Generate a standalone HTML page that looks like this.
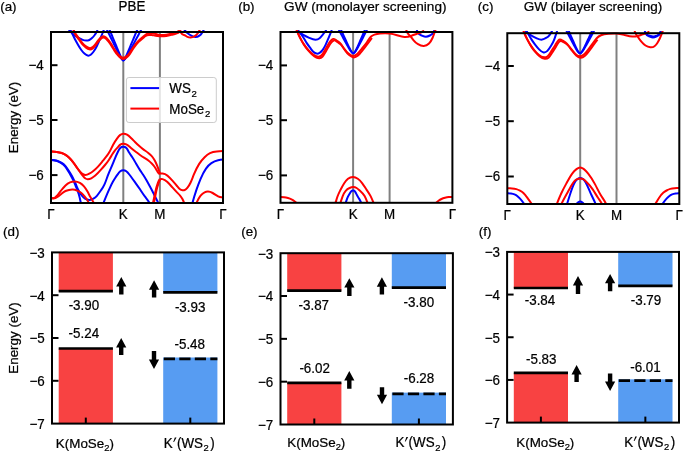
<!DOCTYPE html>
<html><head><meta charset="utf-8"><style>
html,body{margin:0;padding:0;background:#fff;width:685px;height:451px;overflow:hidden}
svg{display:block;will-change:transform}
text{stroke:#000;stroke-width:0.22px}
</style></head><body>
<svg width="685" height="451" viewBox="0 0 685 451" font-family='"Liberation Sans", sans-serif' fill="#000">
<rect width="685" height="451" fill="#fff"/>
<text transform="translate(0.2,10.7) scale(1,1)" text-anchor="start" font-size="13.4">(a)</text>
<text transform="translate(132,10.9) scale(1,1.04)" text-anchor="middle" font-size="13.4">PBE</text>
<text transform="translate(238.2,10.7) scale(1,1)" text-anchor="start" font-size="13.4">(b)</text>
<text transform="translate(365.3,10.9) scale(1,1)" text-anchor="middle" font-size="13.6">GW (monolayer screening)</text>
<text transform="translate(477.8,10.7) scale(1,1)" text-anchor="start" font-size="13.4">(c)</text>
<text transform="translate(593,10.9) scale(1,1)" text-anchor="middle" font-size="13.55">GW (bilayer screening)</text>
<text transform="translate(3,235.8) scale(1,1)" text-anchor="start" font-size="13.4">(d)</text>
<text transform="translate(241.2,235.8) scale(1,1)" text-anchor="start" font-size="13.4">(e)</text>
<text transform="translate(478.7,235.6) scale(1,1)" text-anchor="start" font-size="13.4">(f)</text>
<text transform="translate(18.3,117.5) rotate(-90)" text-anchor="middle" font-size="13.4">Energy (eV)</text>
<text transform="translate(18.3,338) rotate(-90)" text-anchor="middle" font-size="13.4">Energy (eV)</text>
<clipPath id="ca"><rect x="49.4" y="29.9" width="175.2" height="173.1"/></clipPath>
<g stroke="#808080" stroke-width="2">
<line x1="123.3" y1="32" x2="123.3" y2="203"/>
<line x1="159.9" y1="32" x2="159.9" y2="203"/>
</g>
<g clip-path="url(#ca)" stroke-linejoin="round" stroke-linecap="butt">
<path d="M68.7,30C69.4,30.6 70.1,31.3 70.8,32C71.7,32.91 72.6,33.83 73.5,34.6C74.5,35.46 75.5,36.12 76.5,36.7C77.57,37.32 78.63,37.83 79.7,38.4C80.7,38.93 81.7,39.5 82.7,39.9C83.9,40.38 85.1,40.6 86.3,40.6C87.3,40.6 88.3,40.45 89.3,40C90.2,39.59 91.1,38.95 92,38.1C92.9,37.25 93.8,36.21 94.7,35C95.37,34.1 96.03,33.12 96.7,31.7C97,31.06 97.3,30.34 97.6,29.5" stroke="#0000ff" stroke-width="2" fill="none"/>
<path d="M70.2,29.5C70.7,30.59 71.2,31.65 71.7,32.7C72.7,34.79 73.7,36.79 74.7,38.7C75.8,40.8 76.9,42.78 78,44.7C79.1,46.62 80.2,48.47 81.3,50C82.43,51.57 83.57,52.8 84.7,53.8C85.7,54.68 86.7,55.38 87.7,55.6C88.7,55.82 89.7,55.55 90.7,54.8C91.57,54.15 92.43,53.14 93.3,52C94.2,50.82 95.1,49.5 96,47.8C96.9,46.1 97.8,44.01 98.7,42C99.57,40.07 100.43,38.21 101.3,36.2C101.87,34.89 102.43,33.5 103,32C103.3,31.2 103.6,30.37 103.9,29.5" stroke="#0000ff" stroke-width="2" fill="none"/>
<path d="M106.78,29.51C107.2,30.37 107.62,31.23 108.05,32.1C108.47,32.96 108.89,33.82 109.32,34.68C109.74,35.54 110.17,36.4 110.59,37.26C111.01,38.12 111.44,38.98 111.86,39.84C112.28,40.7 112.71,41.55 113.13,42.41C113.56,43.27 113.98,44.12 114.4,44.98C114.83,45.83 115.25,46.68 115.67,47.53C116.1,48.38 116.52,49.23 116.94,50.07C117.37,50.92 117.79,51.76 118.22,52.59C118.64,53.42 119.06,54.25 119.49,55.05C119.91,55.86 120.33,56.65 120.76,57.4C121.18,58.16 121.61,58.88 122.03,59.43C122.45,59.99 122.88,60.38 123.3,60.4C123.76,60.42 124.22,60 124.69,59.43C125.15,58.87 125.61,58.15 126.07,57.4C126.54,56.65 127,55.86 127.46,55.05C127.92,54.24 128.39,53.42 128.85,52.59C129.31,51.76 129.77,50.92 130.24,50.07C130.7,49.23 131.16,48.38 131.62,47.53C132.09,46.68 132.55,45.83 133.01,44.98C133.47,44.12 133.94,43.27 134.4,42.41C134.86,41.55 135.32,40.7 135.79,39.84C136.25,38.98 136.71,38.12 137.17,37.26C137.64,36.4 138.1,35.54 138.56,34.68C139.02,33.82 139.49,32.96 139.95,32.1C140.41,31.23 140.87,30.37 141.34,29.51" stroke="#0000ff" stroke-width="2" fill="none"/>
<path d="M109.48,29.51C109.83,30.37 110.19,31.23 110.54,32.1C110.89,32.96 111.25,33.82 111.6,34.68C111.96,35.54 112.31,36.4 112.67,37.26C113.02,38.12 113.38,38.98 113.73,39.84C114.08,40.7 114.44,41.55 114.79,42.41C115.15,43.27 115.5,44.12 115.86,44.98C116.21,45.83 116.57,46.68 116.92,47.53C117.27,48.38 117.63,49.23 117.98,50.07C118.34,50.92 118.69,51.76 119.05,52.59C119.4,53.42 119.76,54.25 120.11,55.05C120.46,55.86 120.82,56.65 121.17,57.4C121.53,58.16 121.88,58.87 122.24,59.43C122.59,59.99 122.95,60.4 123.3,60.4C123.66,60.4 124.02,59.99 124.38,59.43C124.74,58.87 125.1,58.16 125.46,57.4C125.82,56.65 126.18,55.86 126.54,55.05C126.9,54.25 127.26,53.42 127.62,52.59C127.98,51.76 128.34,50.92 128.7,50.07C129.06,49.23 129.42,48.38 129.78,47.53C130.14,46.68 130.5,45.83 130.86,44.98C131.22,44.12 131.58,43.27 131.94,42.41C132.3,41.55 132.66,40.7 133.02,39.84C133.38,38.98 133.74,38.12 134.1,37.26C134.46,36.4 134.82,35.54 135.18,34.68C135.54,33.82 135.9,32.96 136.26,32.1C136.62,31.23 136.98,30.37 137.34,29.51" stroke="#0000ff" stroke-width="2" fill="none"/>
<path d="M184.3,29.6C184.47,29.84 184.63,30.08 184.8,30.3C185.77,31.59 186.73,32.52 187.7,33.3C188.87,34.24 190.03,34.97 191.2,35.6C192.57,36.34 193.93,36.94 195.3,37C196.67,37.06 198.03,36.58 199.4,35.6C200.17,35.05 200.93,34.35 201.7,33.3C202.27,32.52 202.83,31.56 203.4,30.6C203.6,30.26 203.8,29.93 204,29.6" stroke="#0000ff" stroke-width="2" fill="none"/>
<path d="M73.2,28.95C73.57,29.83 73.93,30.62 74.3,31.35C75.1,32.94 75.9,34.21 76.7,35.35C77.7,36.78 78.7,38 79.7,39.35C80.7,40.7 81.7,42.18 82.7,43.35C83.8,44.64 84.9,45.55 86,46.35C87.1,47.15 88.2,47.83 89.3,48.05C90.43,48.28 91.57,48.01 92.7,47.15C93.57,46.49 94.43,45.49 95.3,44.35C96.2,43.16 97.1,41.83 98,40.65C98.9,39.47 99.8,38.44 100.7,37.65C101.67,36.8 102.63,36.21 103.6,36.25C104.4,36.28 105.2,36.75 106,37.45C106.87,38.21 107.73,39.23 108.6,40.35C109.53,41.55 110.47,42.85 111.4,44.35C112.4,45.95 113.4,47.78 114.4,49.35C115.67,51.34 116.93,52.94 118.2,54.35C119.13,55.39 120.07,56.33 121,56.95C121.77,57.46 122.53,57.77 123.3,57.75C124.07,57.73 124.83,57.4 125.6,56.95C126.6,56.36 127.6,55.58 128.6,54.35C129.7,52.99 130.8,51.09 131.9,49.35C133.07,47.51 134.23,45.86 135.4,44.35C136.57,42.84 137.73,41.49 138.9,40.35C140.23,39.05 141.57,38.05 142.9,36.95C143.87,36.16 144.83,35.31 145.8,34.65C146.8,33.96 147.8,33.47 148.8,33.2C149.77,32.94 150.73,32.9 151.7,33C152.67,33.1 153.63,33.33 154.6,33.6C156.4,34.1 158.2,34.71 160,34.95C162.1,35.23 164.2,35 166.3,34.65C168.23,34.33 170.17,33.89 172.1,33.45C173.67,33.09 175.23,32.72 176.8,32.05C177.7,31.67 178.6,31.18 179.5,30.55C180,30.2 180.5,29.8 181,29.35" stroke="#ff0000" stroke-width="2" fill="none"/>
<path d="M73.2,30.25C73.57,31.13 73.93,31.92 74.3,32.65C75.1,34.24 75.9,35.51 76.7,36.65C77.7,38.08 78.7,39.3 79.7,40.65C80.7,42 81.7,43.48 82.7,44.65C83.8,45.94 84.9,46.85 86,47.65C87.1,48.45 88.2,49.13 89.3,49.35C90.43,49.58 91.57,49.31 92.7,48.45C93.57,47.79 94.43,46.79 95.3,45.65C96.2,44.46 97.1,43.13 98,41.95C98.9,40.77 99.8,39.74 100.7,38.95C101.67,38.1 102.63,37.51 103.6,37.55C104.4,37.58 105.2,38.05 106,38.75C106.87,39.51 107.73,40.53 108.6,41.65C109.53,42.85 110.47,44.15 111.4,45.65C112.4,47.25 113.4,49.08 114.4,50.65C115.67,52.64 116.93,54.24 118.2,55.65C119.13,56.69 120.07,57.63 121,58.25C121.77,58.76 122.53,59.07 123.3,59.05C124.07,59.03 124.83,58.7 125.6,58.25C126.6,57.66 127.6,56.88 128.6,55.65C129.7,54.29 130.8,52.39 131.9,50.65C133.07,48.81 134.23,47.16 135.4,45.65C136.57,44.14 137.73,42.77 138.9,41.65C140.23,40.37 141.57,39.4 142.9,38.25C143.87,37.42 144.83,36.49 145.8,35.95C146.8,35.39 147.8,35.24 148.8,35.1C149.77,34.96 150.73,34.82 151.7,34.9C152.67,34.98 153.63,35.27 154.6,35.5C156.4,35.93 158.2,36.16 160,36.25C162.1,36.35 164.2,36.26 166.3,35.95C168.23,35.67 170.17,35.2 172.1,34.75C173.67,34.38 175.23,34.02 176.8,33.35C177.7,32.97 178.6,32.48 179.5,31.85C180,31.5 180.5,31.1 181,30.65" stroke="#ff0000" stroke-width="2" fill="none"/>
<path d="M179.8,29.6C180.2,30.96 180.6,31.96 181,32.7C182.27,35.04 183.53,34.79 184.8,35.3C185.7,35.66 186.6,36.42 187.5,36.9C188.53,37.45 189.57,37.65 190.6,37.6C191.97,37.53 193.33,37.03 194.7,36.2C195.67,35.61 196.63,34.85 197.6,33.5C198.2,32.66 198.8,31.59 199.4,30.6C199.63,30.22 199.87,29.84 200.1,29.5" stroke="#ff0000" stroke-width="2" fill="none"/>
<path d="M51,159.9C52.9,159.88 54.8,160.14 56.7,160.7C58.23,161.16 59.77,161.81 61.3,162.7C62.63,163.47 63.97,164.41 65.3,166C66.1,166.95 66.9,168.14 67.7,169.3C68.63,170.66 69.57,171.99 70.5,173.5C71.43,175.01 72.37,176.7 73.3,178.6C74.13,180.3 74.97,182.17 75.8,184.2C76.47,185.83 77.13,187.56 77.8,189C78.5,190.51 79.2,191.69 79.9,192.8C81.07,194.65 82.23,196.28 83.4,197.4C84.57,198.52 85.73,199.12 86.9,199.5C87.9,199.82 88.9,199.98 89.9,199.9C91.07,199.8 92.23,199.38 93.4,198.7C94.57,198.02 95.73,197.1 96.9,195.8C98.27,194.28 99.63,192.26 101,190.3C102.17,188.63 103.33,187 104.5,184.4C105.77,181.57 107.03,177.59 108.3,174.3C109.43,171.35 110.57,168.95 111.7,166.3C112.8,163.72 113.9,160.91 115,158.3C115.9,156.16 116.8,154.17 117.7,152.3C118.37,150.92 119.03,149.61 119.7,148.7C120.37,147.79 121.03,147.28 121.7,147C122.23,146.78 122.77,146.7 123.3,146.7C123.83,146.7 124.37,146.78 124.9,147C125.57,147.28 126.23,147.78 126.9,148.7C127.6,149.66 128.3,151.08 129,152.3C130.1,154.21 131.2,155.63 132.3,157.3C133.53,159.17 134.77,161.36 136,163.5C137.33,165.81 138.67,168.06 140,170.1C141.1,171.78 142.2,173.31 143.3,175C144.37,176.64 145.43,178.42 146.5,180.3C147.6,182.24 148.7,184.27 149.8,186.3C150.6,187.77 151.4,189.24 152.2,190.8C153,192.36 153.8,194.01 154.6,195.6C155.8,197.98 157,200.22 158.2,202.7C158.63,203.6 159.07,204.52 159.5,205.5" stroke="#0000ff" stroke-width="2" fill="none"/>
<path d="M51,159.9C52.9,159.82 54.8,160.13 56.7,160.8C58.23,161.34 59.77,162.11 61.3,163.1C62.63,163.96 63.97,164.98 65.3,166.7C66.1,167.73 66.9,169.02 67.7,170.3C68.63,171.8 69.57,173.29 70.5,174.9C71.43,176.51 72.37,178.22 73.3,180.3C74.13,182.16 74.97,184.31 75.8,186.3C76.8,188.69 77.8,190.86 78.8,194.2C79.47,196.43 80.13,199.17 80.8,202.7C80.97,203.58 81.13,204.51 81.3,205.5" stroke="#0000ff" stroke-width="2" fill="none"/>
<path d="M102.3,206C102.73,204.9 103.17,203.8 103.6,202.7C104.87,199.5 106.13,196.35 107.4,193.4C108.27,191.38 109.13,189.46 110,187.6C111,185.46 112,183.4 113,181.6C113.83,180.1 114.67,178.77 115.5,177.5C116.23,176.38 116.97,175.31 117.7,174.3C118.57,173.11 119.43,172.01 120.3,171.3C121.3,170.48 122.3,170.18 123.3,170.2C124.3,170.22 125.3,170.55 126.3,171.3C127.3,172.05 128.3,173.22 129.3,174.5C130.53,176.07 131.77,177.8 133,179.5C134.17,181.11 135.33,182.68 136.5,184.3C137.67,185.92 138.83,187.57 140,189.3C141.67,191.77 143.33,194.41 145,196.6C146.47,198.53 147.93,200.12 149.4,202.7C149.87,203.52 150.33,204.44 150.8,205.5" stroke="#0000ff" stroke-width="2" fill="none"/>
<path d="M191.8,205.5C192.03,204.58 192.27,203.68 192.5,202.8C193.83,197.79 195.17,193.51 196.5,189.6C197.87,185.6 199.23,181.99 200.6,178.8C202.4,174.6 204.2,171.15 206,168.6C207.8,166.05 209.6,164.42 211.4,163.2C213.63,161.69 215.87,160.82 218.1,160.3C219.73,159.92 221.37,159.72 223,159.6" stroke="#0000ff" stroke-width="2" fill="none"/>
<path d="M51,151.5C52.9,151.59 54.8,151.66 56.7,151.9C58.37,152.11 60.03,152.44 61.7,153C63.37,153.56 65.03,154.37 66.7,155.6C68.03,156.59 69.37,157.85 70.7,159.3C71.8,160.49 72.9,161.81 74,163.3C75.33,165.1 76.67,167.14 78,169C79.33,170.86 80.67,172.53 82,173.6C83.1,174.48 84.2,174.96 85.3,175C86.63,175.05 87.97,174.45 89.3,173.7C90.63,172.95 91.97,172.06 93.3,171C94.87,169.76 96.43,168.3 98,166.6C99.67,164.79 101.33,162.71 103,160.7C104.33,159.09 105.67,157.52 107,155.7C107.9,154.47 108.8,153.13 109.7,151.5C110.8,149.51 111.9,147.09 113,145C114.33,142.47 115.67,140.42 117,138.6C118.1,137.1 119.2,135.75 120.3,134.9C121.3,134.13 122.3,133.77 123.3,133.7C124.53,133.62 125.77,133.97 127,134.7C128.33,135.49 129.67,136.7 131,138C132.33,139.3 133.67,140.67 135,142C136.33,143.33 137.67,144.61 139,145.8C140.33,146.99 141.67,148.1 143,149.1C144.67,150.35 146.33,151.42 148,152.7C149.1,153.55 150.2,154.49 151.3,155.7C152.2,156.69 153.1,157.87 154,159.3C154.67,160.36 155.33,161.56 156,163C156.67,164.44 157.33,166.13 158,167.9C158.43,169.05 158.87,170.24 159.3,171.5C159.53,172.18 159.77,172.88 160,173.6" stroke="#ff0000" stroke-width="2" fill="none"/>
<path d="M51,151.5C52.9,151.6 54.8,151.67 56.7,151.9C58.37,152.1 60.03,152.43 61.7,153C63.37,153.57 65.03,154.39 66.7,155.6C68.03,156.57 69.37,157.8 70.7,159.3C71.8,160.54 72.9,161.97 74,163.5C75,164.89 76,166.37 77,167.8C78,169.23 79,170.6 80,172C81.1,173.54 82.2,175.1 83.3,176.4C84.03,177.27 84.77,178.03 85.5,178.5C86.23,178.97 86.97,179.17 87.7,179.2C88.9,179.25 90.1,178.88 91.3,178.3C92.63,177.65 93.97,176.74 95.3,175.6C97.2,173.97 99.1,171.87 101,169.7C102.33,168.17 103.67,166.61 105,165C106.33,163.39 107.67,161.73 109,159.7C110.1,158.03 111.2,156.1 112.3,154.3C113.2,152.82 114.1,151.43 115,150.3C115.9,149.17 116.8,148.31 117.7,147.3C118.57,146.33 119.43,145.23 120.3,144.6C121.3,143.88 122.3,143.78 123.3,143.8C124.3,143.82 125.3,143.95 126.3,144.4C127.87,145.11 129.43,146.63 131,148C132.57,149.37 134.13,150.6 135.7,151.8C137.13,152.9 138.57,153.97 140,155C141.33,155.96 142.67,156.88 144,157.7C145.57,158.67 147.13,159.51 148.7,160.7C149.8,161.54 150.9,162.55 152,163.7C152.9,164.64 153.8,165.67 154.7,167C155.37,167.99 156.03,169.14 156.7,170.3C157.37,171.46 158.03,172.64 158.7,173.3C159.13,173.73 159.57,173.95 160,173.8" stroke="#ff0000" stroke-width="2" fill="none"/>
<path d="M160,173.6C160.87,173.5 161.73,173.49 162.6,173.6C164.2,173.8 165.8,174.4 167.4,175.6C169,176.8 170.6,178.59 172.2,180.4C173.8,182.21 175.4,184.03 177,186C178,187.23 179,188.53 180,189.3C180.83,189.94 181.67,190.22 182.5,190.3C183.33,190.38 184.17,190.25 185,189.8C185.83,189.35 186.67,188.59 187.5,187.6C188.5,186.42 189.5,184.91 190.5,182.8C191.6,180.48 192.7,177.42 193.8,174.7C195.6,170.25 197.4,166.72 199.2,163.9C201,161.08 202.8,158.96 204.6,157.2C206.4,155.44 208.2,154.02 210,153.1C212.27,151.94 214.53,151.56 216.8,151.4C218.87,151.26 220.93,151.3 223,151.1" stroke="#ff0000" stroke-width="2" fill="none"/>
<path d="M152.1,206C152.4,205.08 152.7,203.96 153,202.7C153.8,199.35 154.6,195.1 155.4,191.6C156.2,188.1 157,185.35 157.8,183.2C158.4,181.59 159,180.31 159.6,179.3" stroke="#ff0000" stroke-width="2" fill="none"/>
<path d="M152.9,206C153.23,205.24 153.57,204.08 153.9,202.7C154.67,199.52 155.43,195.14 156.2,191.6C156.93,188.22 157.67,185.61 158.4,183.6C159,181.96 159.6,180.72 160.2,179.8" stroke="#ff0000" stroke-width="2" fill="none"/>
<path d="M159.6,179.3C160.6,178.92 161.6,178.87 162.6,179.1C164.2,179.46 165.8,180.52 167.4,182C169,183.48 170.6,185.37 172.2,187.2C173.8,189.03 175.4,190.81 177,192.4C178.03,193.43 179.07,194.39 180.1,195.6C180.83,196.46 181.57,197.45 182.3,198.8C182.9,199.9 183.5,201.24 184.1,202.7C184.47,203.59 184.83,204.54 185.2,205.5" stroke="#ff0000" stroke-width="2" fill="none"/>
<path d="M51,197.6C53.27,199.23 55.53,197.48 57.8,194.8C59.03,193.34 60.27,191.61 61.5,190C62.83,188.26 64.17,186.65 65.5,185.4C67,183.99 68.5,183.02 70,182.4C71.5,181.78 73,181.5 74.5,181.5C76.3,181.5 78.1,181.89 79.9,182.9C81.27,183.67 82.63,184.79 84,186.4C85.17,187.78 86.33,189.52 87.5,191.6C88.47,193.33 89.43,195.29 90.4,197C91.5,198.95 92.6,200.57 93.7,202.7C94.13,203.54 94.57,204.45 95,205.5" stroke="#ff0000" stroke-width="2" fill="none"/>
<path d="M51,197.6C53.27,199.28 55.53,198.34 57.8,196.7C59.03,195.81 60.27,194.7 61.5,193.7C62.83,192.61 64.17,191.64 65.5,191C66.67,190.44 67.83,190.13 69,189.9C70.3,189.65 71.6,189.5 72.9,189.6C74.27,189.71 75.63,190.1 77,190.6C78.37,191.1 79.73,191.7 81.1,192.8C82.27,193.74 83.43,195.05 84.6,196.4C85.97,197.98 87.33,199.63 88.7,202.7C89.07,203.52 89.43,204.45 89.8,205.5" stroke="#ff0000" stroke-width="2" fill="none"/>
<path d="M195.3,205.5C195.7,204.56 196.1,203.66 196.5,202.8C197.87,199.87 199.23,197.45 200.6,195.7C201.93,193.99 203.27,192.92 204.6,192.3C205.73,191.77 206.87,191.57 208,191.6C209.57,191.64 211.13,192.14 212.7,193C214.5,193.99 216.3,195.45 218.1,196.4C219.73,197.26 221.37,197.71 223,197" stroke="#ff0000" stroke-width="2" fill="none"/>
</g>
<rect x="51" y="32" width="172" height="171" fill="none" stroke="#000" stroke-width="2"/>
<line x1="51" y1="65.2" x2="57.5" y2="65.2" stroke="#000" stroke-width="2"/>
<line x1="51" y1="120" x2="57.5" y2="120" stroke="#000" stroke-width="2"/>
<line x1="51" y1="175.1" x2="57.5" y2="175.1" stroke="#000" stroke-width="2"/>
<text transform="translate(43.8,70) scale(1,1.04)" text-anchor="end" font-size="13.4">−4</text>
<text transform="translate(43.8,124.8) scale(1,1.04)" text-anchor="end" font-size="13.4">−5</text>
<text transform="translate(43.8,179.9) scale(1,1.04)" text-anchor="end" font-size="13.4">−6</text>
<text transform="translate(51,219.4) scale(1,1.04)" text-anchor="middle" font-size="13.4">Γ</text>
<text transform="translate(123.3,219.4) scale(1,1.04)" text-anchor="middle" font-size="13.4">K</text>
<text transform="translate(159.9,219.4) scale(1,1.04)" text-anchor="middle" font-size="13.4">M</text>
<text transform="translate(223,219.4) scale(1,1.04)" text-anchor="middle" font-size="13.4">Γ</text>
<clipPath id="cb"><rect x="278.9" y="29.9" width="175.1" height="172.9"/></clipPath>
<g stroke="#808080" stroke-width="2">
<line x1="353.1" y1="32" x2="353.1" y2="202.8"/>
<line x1="389.6" y1="32" x2="389.6" y2="202.8"/>
</g>
<g clip-path="url(#cb)" stroke-linejoin="round" stroke-linecap="butt">
<path d="M296.6,30.2C297.5,30.72 298.4,31.34 299.3,32C300.8,33.09 302.3,34.27 303.8,35.2C305.57,36.29 307.33,37.03 309.1,37.8C311.23,38.72 313.37,39.68 315.5,39.7C316.87,39.71 318.23,39.33 319.6,38.2C320.63,37.34 321.67,36.06 322.7,34.8C323.43,33.91 324.17,33.03 324.9,32C325.37,31.34 325.83,30.63 326.3,29.8" stroke="#0000ff" stroke-width="2" fill="none"/>
<path d="M297.9,30C298.37,30.71 298.83,31.37 299.3,32C300.53,33.67 301.77,35.16 303,37C304.27,38.89 305.53,41.15 306.8,43.1C308.07,45.05 309.33,46.68 310.6,48.4C311.6,49.76 312.6,51.17 313.6,52.1C314.6,53.03 315.6,53.49 316.6,53.6C317.6,53.71 318.6,53.48 319.6,52.9C320.63,52.3 321.67,51.33 322.7,49.9C323.7,48.52 324.7,46.72 325.7,44.6C326.57,42.76 327.43,40.69 328.3,38.6C329.2,36.43 330.1,34.24 331,32C331.27,31.34 331.53,30.67 331.8,30" stroke="#0000ff" stroke-width="2" fill="none"/>
<path d="M338.69,29.54C339.06,30.24 339.44,30.94 339.81,31.64C340.18,32.35 340.56,33.05 340.93,33.75C341.31,34.45 341.68,35.15 342.06,35.84C342.43,36.54 342.81,37.24 343.18,37.93C343.56,38.63 343.93,39.32 344.31,40.01C344.68,40.7 345.06,41.38 345.43,42.07C345.81,42.75 346.18,43.43 346.56,44.1C346.93,44.77 347.3,45.44 347.68,46.1C348.05,46.76 348.43,47.4 348.8,48.03C349.18,48.66 349.55,49.28 349.93,49.86C350.3,50.45 350.68,51 351.05,51.49C351.43,51.98 351.8,52.41 352.18,52.72C352.55,53.03 352.93,53.22 353.3,53.2C353.6,53.18 353.9,53.02 354.2,52.72C354.51,52.42 354.81,51.98 355.11,51.49C355.41,51 355.71,50.45 356.01,49.86C356.31,49.28 356.62,48.66 356.92,48.03C357.22,47.4 357.52,46.76 357.82,46.1C358.12,45.44 358.42,44.77 358.73,44.1C359.03,43.43 359.33,42.75 359.63,42.07C359.93,41.38 360.23,40.7 360.54,40.01C360.84,39.32 361.14,38.63 361.44,37.93C361.74,37.24 362.04,36.54 362.34,35.84C362.65,35.15 362.95,34.45 363.25,33.75C363.55,33.05 363.85,32.35 364.15,31.64C364.45,30.94 364.76,30.24 365.06,29.54" stroke="#0000ff" stroke-width="2" fill="none"/>
<path d="M340.88,29.54C341.2,30.24 341.52,30.94 341.84,31.64C342.16,32.35 342.48,33.05 342.79,33.75C343.11,34.45 343.43,35.15 343.75,35.84C344.07,36.54 344.39,37.24 344.7,37.93C345.02,38.63 345.34,39.32 345.66,40.01C345.98,40.7 346.3,41.38 346.61,42.07C346.93,42.75 347.25,43.43 347.57,44.1C347.89,44.77 348.21,45.44 348.52,46.1C348.84,46.76 349.16,47.4 349.48,48.03C349.8,48.66 350.12,49.28 350.43,49.86C350.75,50.45 351.07,51 351.39,51.49C351.71,51.98 352.03,52.42 352.34,52.72C352.66,53.02 352.98,53.19 353.3,53.2C353.65,53.21 354,53.02 354.36,52.72C354.71,52.41 355.06,51.98 355.41,51.49C355.77,51 356.12,50.45 356.47,49.86C356.82,49.28 357.17,48.66 357.53,48.03C357.88,47.4 358.23,46.76 358.58,46.1C358.93,45.44 359.29,44.77 359.64,44.1C359.99,43.43 360.34,42.75 360.7,42.07C361.05,41.38 361.4,40.7 361.75,40.01C362.1,39.32 362.46,38.63 362.81,37.93C363.16,37.24 363.51,36.54 363.87,35.84C364.22,35.15 364.57,34.45 364.92,33.75C365.27,33.05 365.63,32.35 365.98,31.64C366.33,30.94 366.68,30.24 367.04,29.54" stroke="#0000ff" stroke-width="2" fill="none"/>
<path d="M416.7,29.8C417.03,30.84 417.37,31.65 417.7,32.3C418.8,34.44 419.9,34.77 421,35.2C422.63,35.84 424.27,36.7 425.9,36.7C427.43,36.7 428.97,35.94 430.5,35.2C431.5,34.72 432.5,34.25 433.5,32.3C433.83,31.65 434.17,30.83 434.5,29.8" stroke="#0000ff" stroke-width="2" fill="none"/>
<path d="M296.2,29.1C296.5,29.85 296.8,30.58 297.1,31.3C298.1,33.7 299.1,35.93 300.1,37.9C301.27,40.2 302.43,42.15 303.6,43.9C304.93,45.9 306.27,47.64 307.6,49.2C308.93,50.76 310.27,52.14 311.6,53.3C312.93,54.46 314.27,55.38 315.6,56C316.6,56.46 317.6,56.75 318.6,56.7C319.6,56.65 320.6,56.25 321.6,55.2C322.6,54.15 323.6,52.46 324.6,50.7C325.6,48.94 326.6,47.1 327.6,45.4C328.6,43.7 329.6,42.14 330.6,40.9C331.43,39.87 332.27,39.06 333.1,38.9C334.27,38.67 335.43,39.7 336.6,40.5C337.7,41.25 338.8,41.8 339.9,42.9C341.3,44.3 342.7,46.62 344.1,48.6C345.53,50.63 346.97,52.32 348.4,53.6C349.9,54.94 351.4,55.82 352.9,55.9C354.23,55.97 355.57,55.41 356.9,54.3C358.57,52.92 360.23,50.68 361.9,48.6C363.57,46.52 365.23,44.59 366.9,42.2C368.3,40.19 369.7,37.85 371.1,36.5C372.23,35.4 373.37,34.95 374.5,34.6C376.33,34.03 378.17,33.71 380,33.5C383.2,33.13 386.4,33.06 389.6,33.5C392.07,33.84 394.53,34.47 397,35.2C399.47,35.93 401.93,36.76 404.4,36.9C406.8,37.04 409.2,36.53 411.6,35.7C413.4,35.08 415.2,34.28 417,33.7C418.6,33.18 420.2,32.83 421.8,32C422.53,31.62 423.27,31.14 424,30.5" stroke="#ff0000" stroke-width="2" fill="none"/>
<path d="M297,30.6C297.3,31.35 297.6,32.08 297.9,32.8C298.9,35.2 299.9,37.43 300.9,39.4C302.07,41.7 303.23,43.65 304.4,45.4C305.73,47.4 307.07,49.14 308.4,50.7C309.73,52.26 311.07,53.64 312.4,54.8C313.73,55.96 315.07,56.88 316.4,57.5C317.4,57.96 318.4,58.25 319.4,58.2C320.4,58.15 321.4,57.75 322.4,56.7C323.4,55.65 324.4,53.96 325.4,52.2C326.4,50.44 327.4,48.6 328.4,46.9C329.4,45.2 330.4,43.64 331.4,42.4C332.23,41.37 333.07,40.56 333.9,40.4C335.07,40.17 336.23,41.2 337.4,42C338.5,42.75 339.6,43.3 340.7,44.4C342.1,45.8 343.5,48.12 344.9,50.1C346.33,52.13 347.77,53.82 349.2,55.1C350.7,56.44 352.2,57.32 353.7,57.4C355.03,57.47 356.37,56.9 357.7,55.8C359.37,54.43 361.03,52.24 362.7,50.1C364.37,47.96 366.03,45.87 367.7,43.7C369.1,41.88 370.5,40 371.9,38" stroke="#ff0000" stroke-width="2" fill="none"/>
<path d="M406.2,29.8C406.47,30.68 406.73,31.4 407,32C408,34.25 409,34.8 410,35.8C411.2,37 412.4,38.84 413.6,40.3C415.07,42.09 416.53,43.31 418,44.2C419.93,45.37 421.87,45.97 423.8,45.9C425.53,45.84 427.27,45.24 429,43.5C430.17,42.33 431.33,40.64 432.5,38C433.27,36.27 434.03,34.13 434.8,32C435.07,31.26 435.33,30.52 435.6,29.8" stroke="#ff0000" stroke-width="2" fill="none"/>
<path d="M334.4,206C334.77,205.14 335.13,204.06 335.5,202.9C336.13,200.9 336.77,198.64 337.4,196.8C338.4,193.89 339.4,192 340.4,190.1C341.67,187.69 342.93,185.26 344.2,183.3C345.47,181.34 346.73,179.85 348,178.8C349.7,177.4 351.4,176.8 353.1,176.9C354.67,177 356.23,177.69 357.8,178.8C359.3,179.86 360.8,181.3 362.3,183.3C363.8,185.3 365.3,187.86 366.8,190.1C368.07,191.99 369.33,193.64 370.6,196.1C371.6,198.04 372.6,200.48 373.6,202.9C374.03,203.95 374.47,205 374.9,206" stroke="#ff0000" stroke-width="2" fill="none"/>
<path d="M339.3,206C339.67,205.07 340.03,204.01 340.4,202.9C341.17,200.58 341.93,198.06 342.7,196.1C343.7,193.55 344.7,191.95 345.7,190.8C347,189.3 348.3,188.56 349.6,188C350.77,187.5 351.93,187.15 353.1,187.1C354.27,187.05 355.43,187.3 356.6,188C357.73,188.68 358.87,189.79 360,190.8C361.53,192.17 363.07,193.36 364.6,196.1C365.6,197.89 366.6,200.33 367.6,202.9C368,203.93 368.4,204.97 368.8,206" stroke="#ff0000" stroke-width="2" fill="none"/>
<path d="M344.7,206C345.03,205.03 345.37,203.97 345.7,202.9C346.2,201.3 346.7,199.69 347.2,198.4C347.97,196.42 348.73,195.18 349.5,193.9C350.1,192.9 350.7,191.86 351.3,191.3C351.9,190.74 352.5,190.65 353.1,190.6C353.7,190.55 354.3,190.54 354.9,191.3C355.37,191.89 355.83,192.95 356.3,193.9C357.17,195.66 358.03,197.01 358.9,198.4C359.67,199.63 360.43,200.89 361.2,202.9C361.53,203.77 361.87,204.79 362.2,206" stroke="#0000ff" stroke-width="2" fill="none"/>
<path d="M280.5,197C281.67,196.99 282.83,197.05 284,197.2C285.33,197.37 286.67,197.64 288,198C289.17,198.32 290.33,198.71 291.5,199.3C292.5,199.81 293.5,200.46 294.5,201.2C295.23,201.74 295.97,202.33 296.7,203C297.2,203.46 297.7,203.95 298.2,204.5" stroke="#ff0000" stroke-width="2" fill="none"/>
<path d="M434.7,204.5C435.1,203.93 435.5,203.43 435.9,203C436.77,202.06 437.63,201.4 438.5,200.8C439.5,200.1 440.5,199.48 441.5,199C442.67,198.44 443.83,198.09 445,197.8C446.27,197.49 447.53,197.25 448.8,197.1C450,196.96 451.2,196.89 452.4,196.9" stroke="#ff0000" stroke-width="2" fill="none"/>
</g>
<rect x="280.5" y="32" width="171.9" height="170.8" fill="none" stroke="#000" stroke-width="2"/>
<line x1="280.5" y1="65.4" x2="287" y2="65.4" stroke="#000" stroke-width="2"/>
<line x1="280.5" y1="120.2" x2="287" y2="120.2" stroke="#000" stroke-width="2"/>
<line x1="280.5" y1="175.4" x2="287" y2="175.4" stroke="#000" stroke-width="2"/>
<text transform="translate(273.3,70.2) scale(1,1.04)" text-anchor="end" font-size="13.4">−4</text>
<text transform="translate(273.3,125) scale(1,1.04)" text-anchor="end" font-size="13.4">−5</text>
<text transform="translate(273.3,180.2) scale(1,1.04)" text-anchor="end" font-size="13.4">−6</text>
<text transform="translate(280.5,219.2) scale(1,1.04)" text-anchor="middle" font-size="13.4">Γ</text>
<text transform="translate(353.1,219.2) scale(1,1.04)" text-anchor="middle" font-size="13.4">K</text>
<text transform="translate(389.6,219.2) scale(1,1.04)" text-anchor="middle" font-size="13.4">M</text>
<text transform="translate(452.4,219.2) scale(1,1.04)" text-anchor="middle" font-size="13.4">Γ</text>
<clipPath id="cc"><rect x="505.7" y="31.1" width="175.2" height="172.9"/></clipPath>
<g stroke="#808080" stroke-width="2">
<line x1="580.2" y1="33.2" x2="580.2" y2="204"/>
<line x1="616.5" y1="33.2" x2="616.5" y2="204"/>
</g>
<g clip-path="url(#cc)" stroke-linejoin="round" stroke-linecap="butt">
<path d="M524.9,31.3C525.87,31.79 526.83,32.43 527.8,33.1C529.3,34.15 530.8,35.3 532.3,36.2C533.8,37.1 535.3,37.76 536.8,38.4C538.57,39.15 540.33,39.88 542.1,39.6C543.37,39.4 544.63,38.68 545.9,38C546.9,37.46 547.9,36.94 548.9,35.8C549.53,35.08 550.17,34.1 550.8,33.1C551.3,32.31 551.8,31.51 552.3,30.8" stroke="#0000ff" stroke-width="2" fill="none"/>
<path d="M526.4,30.9C526.87,31.58 527.33,32.32 527.8,33.1C529.07,35.21 530.33,37.58 531.6,39.6C532.83,41.56 534.07,43.2 535.3,44.8C536.57,46.45 537.83,48.07 539.1,49.4C540.6,50.98 542.1,52.16 543.6,52.4C544.87,52.6 546.13,52.13 547.4,50.9C548.67,49.67 549.93,47.7 551.2,45.6C552.2,43.94 553.2,42.21 554.2,39.6C554.93,37.69 555.67,35.3 556.4,33.1C556.67,32.3 556.93,31.52 557.2,30.8" stroke="#0000ff" stroke-width="2" fill="none"/>
<path d="M566.43,30.74C566.78,31.41 567.12,32.09 567.47,32.76C567.82,33.43 568.17,34.11 568.52,34.78C568.86,35.45 569.21,36.12 569.56,36.79C569.91,37.45 570.26,38.12 570.6,38.79C570.95,39.45 571.3,40.11 571.65,40.77C572,41.43 572.34,42.09 572.69,42.74C573.04,43.4 573.39,44.04 573.74,44.69C574.08,45.33 574.43,45.97 574.78,46.59C575.13,47.22 575.48,47.84 575.82,48.44C576.17,49.04 576.52,49.62 576.87,50.17C577.22,50.73 577.56,51.25 577.91,51.71C578.26,52.17 578.61,52.57 578.96,52.85C579.3,53.14 579.65,53.31 580,53.3C580.31,53.29 580.62,53.13 580.93,52.85C581.24,52.57 581.56,52.17 581.87,51.71C582.18,51.25 582.49,50.73 582.8,50.17C583.11,49.62 583.42,49.04 583.73,48.44C584.05,47.84 584.36,47.22 584.67,46.59C584.98,45.97 585.29,45.33 585.6,44.69C585.91,44.04 586.22,43.4 586.54,42.74C586.85,42.09 587.16,41.43 587.47,40.77C587.78,40.11 588.09,39.45 588.4,38.79C588.71,38.12 589.03,37.45 589.34,36.79C589.65,36.12 589.96,35.45 590.27,34.78C590.58,34.11 590.89,33.43 591.2,32.76C591.51,32.09 591.83,31.41 592.14,30.74" stroke="#0000ff" stroke-width="2" fill="none"/>
<path d="M568.64,30.74C568.93,31.41 569.22,32.09 569.51,32.76C569.8,33.43 570.09,34.11 570.38,34.78C570.68,35.45 570.97,36.12 571.26,36.79C571.55,37.45 571.84,38.12 572.13,38.79C572.42,39.45 572.71,40.11 573.01,40.77C573.3,41.43 573.59,42.09 573.88,42.74C574.17,43.4 574.46,44.04 574.75,44.69C575.05,45.33 575.34,45.97 575.63,46.59C575.92,47.22 576.21,47.84 576.5,48.44C576.79,49.04 577.09,49.62 577.38,50.17C577.67,50.73 577.96,51.25 578.25,51.71C578.54,52.17 578.83,52.58 579.13,52.85C579.42,53.13 579.71,53.28 580,53.3C580.36,53.32 580.72,53.14 581.09,52.85C581.45,52.57 581.81,52.17 582.17,51.71C582.53,51.25 582.9,50.73 583.26,50.17C583.62,49.62 583.98,49.04 584.35,48.44C584.71,47.84 585.07,47.22 585.43,46.59C585.79,45.97 586.16,45.33 586.52,44.69C586.88,44.04 587.24,43.4 587.6,42.74C587.97,42.09 588.33,41.43 588.69,40.77C589.05,40.11 589.42,39.45 589.78,38.79C590.14,38.12 590.5,37.45 590.86,36.79C591.23,36.12 591.59,35.45 591.95,34.78C592.31,34.11 592.67,33.43 593.04,32.76C593.4,32.09 593.76,31.41 594.12,30.74" stroke="#0000ff" stroke-width="2" fill="none"/>
<path d="M644.8,30.8C645.1,31.81 645.4,32.59 645.7,33.2C646.8,35.44 647.9,35.37 649,35.6C650.3,35.87 651.6,36.56 652.9,36.6C654.27,36.64 655.63,35.97 657,35.6C658,35.33 659,35.23 660,33.2C660.3,32.59 660.6,31.81 660.9,30.8" stroke="#0000ff" stroke-width="2" fill="none"/>
<path d="M644.8,30.8C645.1,31.78 645.4,32.57 645.7,33.2C646.8,35.52 647.9,35.8 649,36.23C650.3,36.74 651.6,37.45 652.9,37.5C654.27,37.55 655.63,36.87 657,36.23C658,35.76 659,35.32 660,33.2C660.3,32.57 660.6,31.78 660.9,30.8" stroke="#0000ff" stroke-width="2" fill="none"/>
<path d="M523.2,30.1C523.47,30.93 523.73,31.69 524,32.4C524.87,34.7 525.73,36.43 526.6,38.1C527.87,40.54 529.13,42.87 530.4,44.9C531.67,46.93 532.93,48.67 534.2,50.2C535.7,52.01 537.2,53.51 538.7,54.7C540.47,56.1 542.23,57.05 544,57.3C545.23,57.48 546.47,57.31 547.7,56.2C548.97,55.05 550.23,52.91 551.5,50.9C552.77,48.89 554.03,47.03 555.3,44.9C556.3,43.22 557.3,41.36 558.3,40.4C558.8,39.92 559.3,39.66 559.8,39.6C560.8,39.47 561.8,40.11 562.8,40.7C564.17,41.51 565.53,42.25 566.9,43.6C568.3,44.99 569.7,47.02 571.1,48.9C572.53,50.82 573.97,52.59 575.4,53.9C576.8,55.18 578.2,56.03 579.6,56.2C581.03,56.37 582.47,55.82 583.9,54.6C585.33,53.38 586.77,51.5 588.2,49.6C589.6,47.75 591,45.89 592.4,43.9C593.83,41.86 595.27,39.7 596.7,38.2C598.13,36.7 599.57,35.88 601,35.3C603.5,34.29 606,34.01 608.5,33.8C611.17,33.57 613.83,33.41 616.5,33.6C619,33.78 621.5,34.27 624,34.9C626.8,35.61 629.6,36.5 632.4,36.6C634.47,36.67 636.53,36.31 638.6,35.7C640.4,35.17 642.2,34.46 644,34C645,33.75 646,33.57 647,33C647.67,32.62 648.33,32.07 649,31.2" stroke="#ff0000" stroke-width="2" fill="none"/>
<path d="M524,31.6C524.27,32.43 524.53,33.19 524.8,33.9C525.67,36.2 526.53,37.93 527.4,39.6C528.67,42.04 529.93,44.37 531.2,46.4C532.47,48.43 533.73,50.17 535,51.7C536.5,53.51 538,55.01 539.5,56.2C541.27,57.6 543.03,58.55 544.8,58.8C546.03,58.98 547.27,58.81 548.5,57.7C549.77,56.55 551.03,54.41 552.3,52.4C553.57,50.39 554.83,48.53 556.1,46.4C557.1,44.72 558.1,42.86 559.1,41.9C559.6,41.42 560.1,41.16 560.6,41.1C561.6,40.97 562.6,41.61 563.6,42.2C564.97,43.01 566.33,43.75 567.7,45.1C569.1,46.49 570.5,48.52 571.9,50.4C573.33,52.32 574.77,54.09 576.2,55.4C577.6,56.68 579,57.54 580.4,57.7C581.83,57.87 583.27,57.31 584.7,56.1C586.13,54.89 587.57,53.02 589,51.1C590.4,49.23 591.8,47.3 593.2,45.4C594.63,43.45 596.07,41.53 597.5,39.7" stroke="#ff0000" stroke-width="2" fill="none"/>
<path d="M634.6,30.8C634.9,31.74 635.2,32.52 635.5,33.2C636.33,35.08 637.17,36.12 638,37.2C639.2,38.75 640.4,40.39 641.6,41.8C642.9,43.33 644.2,44.6 645.5,45.5C647.1,46.6 648.7,47.14 650.3,47.3C651.7,47.44 653.1,47.31 654.5,46.3C655.5,45.58 656.5,44.42 657.5,42.8C658.33,41.45 659.17,39.79 660,38C660.67,36.57 661.33,35.05 662,33.2C662.27,32.46 662.53,31.66 662.8,30.8" stroke="#ff0000" stroke-width="2" fill="none"/>
<path d="M555.6,207C556,206 556.4,205 556.8,204C558.27,200.33 559.73,196.69 561.2,193.5C562.97,189.65 564.73,186.44 566.5,183.2C568.4,179.71 570.3,176.18 572.2,173.6C573.53,171.79 574.87,170.45 576.2,169.4C576.87,168.87 577.53,168.42 578.2,168.1C578.87,167.78 579.53,167.6 580.2,167.6C580.87,167.6 581.53,167.78 582.2,168.1C582.87,168.42 583.53,168.86 584.2,169.4C585.53,170.48 586.87,171.92 588.2,173.6C590.5,176.49 592.8,180.08 595.1,184.4C597.07,188.09 599.03,192.32 601,195.5C602.7,198.25 604.4,200.22 606.1,204C606.5,204.89 606.9,205.88 607.3,207" stroke="#ff0000" stroke-width="2" fill="none"/>
<path d="M565.9,207C566.27,206.08 566.63,205.07 567,204C568.2,200.51 569.4,196.4 570.6,192.7C571.97,188.48 573.33,184.78 574.7,182.4C575.7,180.66 576.7,179.63 577.7,178.9C578.53,178.29 579.37,177.9 580.2,177.9C581.03,177.9 581.87,178.28 582.7,178.9C583.7,179.64 584.7,180.71 585.7,182.4C587.4,185.27 589.1,189.94 590.8,193.7C592.4,197.24 594,199.97 595.6,204C595.97,204.92 596.33,205.92 596.7,207" stroke="#0000ff" stroke-width="2" fill="none"/>
<path d="M560,207C560.47,205.96 560.93,204.96 561.4,204C563.8,199.05 566.2,195.03 568.6,190.6C570.47,187.15 572.33,183.46 574.2,181.4C575.2,180.3 576.2,179.67 577.2,179.2C578.2,178.73 579.2,178.42 580.2,178.4C581.2,178.38 582.2,178.63 583.2,179.2C584.13,179.73 585.07,180.53 586,181.4C588.3,183.54 590.6,186.12 592.9,189.6C594.6,192.17 596.3,195.25 598,197.8C599.33,199.8 600.67,201.48 602,204C602.47,204.88 602.93,205.86 603.4,207" stroke="#ff0000" stroke-width="2" fill="none"/>
<path d="M575.2,206C575.67,205.1 576.13,204.38 576.6,203.8C577.13,203.14 577.67,202.66 578.2,202.3C578.87,201.85 579.53,201.6 580.2,201.6C580.87,201.6 581.53,201.85 582.2,202.3C582.73,202.66 583.27,203.14 583.8,203.8C584.27,204.38 584.73,205.1 585.2,206" stroke="#0000ff" stroke-width="2" fill="none"/>
<path d="M507.3,188.2C508.87,188.32 510.43,188.31 512,188.4C513.43,188.49 514.87,188.66 516.3,189.1C517.53,189.48 518.77,190.05 520,190.7C521.13,191.29 522.27,191.95 523.4,193C524.87,194.36 526.33,196.39 527.8,198.4C529.13,200.23 530.47,202.04 531.8,204C532.13,204.49 532.47,204.99 532.8,205.5" stroke="#ff0000" stroke-width="2" fill="none"/>
<path d="M507.3,193.2C508.53,193.28 509.77,193.33 511,193.5C512.17,193.66 513.33,193.92 514.5,194.4C515.5,194.81 516.5,195.39 517.5,196.2C518.27,196.82 519.03,197.58 519.8,198.4C521.3,200 522.8,201.83 524.3,204C524.63,204.48 524.97,204.98 525.3,205.5" stroke="#0000ff" stroke-width="2" fill="none"/>
<path d="M654.3,205.5C654.63,205.03 654.97,204.53 655.3,204C656.47,202.15 657.63,200.02 658.8,198.2C660.27,195.91 661.73,194.09 663.2,192.8C664.33,191.8 665.47,191.11 666.6,190.5C667.83,189.84 669.07,189.27 670.3,188.9C671.73,188.47 673.17,188.29 674.6,188.2C676.17,188.1 677.73,188.11 679.3,188" stroke="#ff0000" stroke-width="2" fill="none"/>
<path d="M661.4,205.5C661.73,204.99 662.07,204.49 662.4,204C663.87,201.86 665.33,199.99 666.8,198.4C667.57,197.57 668.33,196.82 669.1,196.2C670.1,195.39 671.1,194.81 672.1,194.4C673.27,193.92 674.43,193.66 675.6,193.5C676.83,193.33 678.07,193.28 679.3,193.2" stroke="#0000ff" stroke-width="2" fill="none"/>
</g>
<rect x="507.3" y="33.2" width="172" height="170.8" fill="none" stroke="#000" stroke-width="2"/>
<line x1="507.3" y1="66" x2="513.8" y2="66" stroke="#000" stroke-width="2"/>
<line x1="507.3" y1="121.2" x2="513.8" y2="121.2" stroke="#000" stroke-width="2"/>
<line x1="507.3" y1="176.5" x2="513.8" y2="176.5" stroke="#000" stroke-width="2"/>
<text transform="translate(500.1,70.8) scale(1,1.04)" text-anchor="end" font-size="13.4">−4</text>
<text transform="translate(500.1,126) scale(1,1.04)" text-anchor="end" font-size="13.4">−5</text>
<text transform="translate(500.1,181.3) scale(1,1.04)" text-anchor="end" font-size="13.4">−6</text>
<text transform="translate(507.3,220.4) scale(1,1.04)" text-anchor="middle" font-size="13.4">Γ</text>
<text transform="translate(580.2,220.4) scale(1,1.04)" text-anchor="middle" font-size="13.4">K</text>
<text transform="translate(616.5,220.4) scale(1,1.04)" text-anchor="middle" font-size="13.4">M</text>
<text transform="translate(679.3,220.4) scale(1,1.04)" text-anchor="middle" font-size="13.4">Γ</text>
<rect x="126.4" y="77.5" width="89.9" height="45" rx="2.5" ry="2.5" fill="#fff" fill-opacity="0.8" stroke="#cccccc" stroke-width="1"/>
<line x1="130.4" y1="88.1" x2="159.1" y2="88.1" stroke="#0000ff" stroke-width="2"/>
<line x1="130.4" y1="108.6" x2="159.1" y2="108.6" stroke="#ff0000" stroke-width="2"/>
<text transform="translate(169.3,93.2) scale(1,1.04)" text-anchor="start" font-size="13.4">WS<tspan font-size="9.6" dx="0.6" dy="3.6">2</tspan></text>
<text transform="translate(169.3,113.6) scale(1,1.04)" text-anchor="start" font-size="13.4">MoSe<tspan font-size="9.6" dx="0.8" dy="3.6">2</tspan></text>
<rect x="58.7" y="252.4" width="54.2" height="38.77" fill="#f84242"/>
<rect x="58.7" y="348.52" width="54.2" height="75.08" fill="#f84242"/>
<rect x="163.2" y="252.4" width="54.2" height="40.05" fill="#579cf2"/>
<rect x="163.2" y="357.49" width="54.2" height="66.11" fill="#579cf2"/>
<line x1="58.7" y1="291.17" x2="112.9" y2="291.17" stroke="#000" stroke-width="2.7"/>
<line x1="58.7" y1="348.52" x2="112.9" y2="348.52" stroke="#000" stroke-width="2.7"/>
<line x1="163.2" y1="292.45" x2="217.4" y2="292.45" stroke="#000" stroke-width="2.7"/>
<line x1="163.8" y1="358.79" x2="217.4" y2="358.79" stroke="#000" stroke-width="2.7" stroke-dasharray="11.2 4.3"/>
<rect x="52" y="252.4" width="172" height="171.2" fill="none" stroke="#000" stroke-width="2"/>
<line x1="52" y1="295.2" x2="58.5" y2="295.2" stroke="#000" stroke-width="2"/>
<line x1="52" y1="338" x2="58.5" y2="338" stroke="#000" stroke-width="2"/>
<line x1="52" y1="380.8" x2="58.5" y2="380.8" stroke="#000" stroke-width="2"/>
<line x1="85.8" y1="423.6" x2="85.8" y2="417.6" stroke="#000" stroke-width="2"/>
<line x1="190.3" y1="423.6" x2="190.3" y2="417.6" stroke="#000" stroke-width="2"/>
<text transform="translate(44.8,257.7) scale(1,1.04)" text-anchor="end" font-size="13.4">−3</text>
<text transform="translate(44.8,300.5) scale(1,1.04)" text-anchor="end" font-size="13.4">−4</text>
<text transform="translate(44.8,343.3) scale(1,1.04)" text-anchor="end" font-size="13.4">−5</text>
<text transform="translate(44.8,386.1) scale(1,1.04)" text-anchor="end" font-size="13.4">−6</text>
<text transform="translate(44.8,428.9) scale(1,1.04)" text-anchor="end" font-size="13.4">−7</text>
<text transform="translate(83.9,309.6) scale(1,1.04)" text-anchor="middle" font-size="13.4">-3.90</text>
<text transform="translate(83.85,338.4) scale(1,1.04)" text-anchor="middle" font-size="13.4">-5.24</text>
<text transform="translate(190.15,312.2) scale(1,1.04)" text-anchor="middle" font-size="13.4">-3.93</text>
<text transform="translate(189.75,349.3) scale(1,1.04)" text-anchor="middle" font-size="13.4">-5.48</text>
<polygon points="121.3,277 126.4,286.4 123.5,286.4 123.5,294.6 119.1,294.6 119.1,286.4 116.2,286.4" fill="#000"/>
<polygon points="121.2,338 126.3,347.4 123.4,347.4 123.4,355 119,355 119,347.4 116.1,347.4" fill="#000"/>
<polygon points="154.1,280.3 159.2,289.7 156.3,289.7 156.3,297.6 151.9,297.6 151.9,289.7 149,289.7" fill="#000"/>
<polygon points="154,368.9 159.1,359.5 156.2,359.5 156.2,351 151.8,351 151.8,359.5 148.9,359.5" fill="#000"/>
<text transform="translate(84.9,447.9) scale(1,1)" text-anchor="middle" font-size="13.4">K(MoSe<tspan font-size="9.4" dy="3">2</tspan><tspan dy="-3">)</tspan></text>
<text transform="translate(163.8,447.9) scale(1,1.04)" text-anchor="start" font-size="13.4">K</text>
<polygon points="174.8,437.5 176.5,437.5 174,442.1 173.25,442.1" fill="#000"/>
<text transform="translate(176.95,447.9) scale(1,1.04)" text-anchor="start" font-size="13.4">(WS<tspan font-size="9.4" dx="0.6" dy="3">2</tspan><tspan dx="1.4" dy="-3">)</tspan></text>
<rect x="287.2" y="253.2" width="54.2" height="37.51" fill="#f84242"/>
<rect x="287.2" y="382.78" width="54.2" height="41.72" fill="#f84242"/>
<rect x="391.8" y="253.2" width="54.2" height="34.51" fill="#579cf2"/>
<rect x="391.8" y="392.62" width="54.2" height="31.88" fill="#579cf2"/>
<line x1="287.2" y1="290.71" x2="341.4" y2="290.71" stroke="#000" stroke-width="2.7"/>
<line x1="287.2" y1="382.78" x2="341.4" y2="382.78" stroke="#000" stroke-width="2.7"/>
<line x1="391.8" y1="287.71" x2="446" y2="287.71" stroke="#000" stroke-width="2.7"/>
<line x1="392.4" y1="393.92" x2="446" y2="393.92" stroke="#000" stroke-width="2.7" stroke-dasharray="11.2 4.3"/>
<rect x="280.5" y="253.2" width="172.4" height="171.3" fill="none" stroke="#000" stroke-width="2"/>
<line x1="280.5" y1="296.02" x2="287" y2="296.02" stroke="#000" stroke-width="2"/>
<line x1="280.5" y1="338.85" x2="287" y2="338.85" stroke="#000" stroke-width="2"/>
<line x1="280.5" y1="381.68" x2="287" y2="381.68" stroke="#000" stroke-width="2"/>
<line x1="314.3" y1="424.5" x2="314.3" y2="418.5" stroke="#000" stroke-width="2"/>
<line x1="418.9" y1="424.5" x2="418.9" y2="418.5" stroke="#000" stroke-width="2"/>
<text transform="translate(273.3,258.5) scale(1,1.04)" text-anchor="end" font-size="13.4">−3</text>
<text transform="translate(273.3,301.32) scale(1,1.04)" text-anchor="end" font-size="13.4">−4</text>
<text transform="translate(273.3,344.15) scale(1,1.04)" text-anchor="end" font-size="13.4">−5</text>
<text transform="translate(273.3,386.98) scale(1,1.04)" text-anchor="end" font-size="13.4">−6</text>
<text transform="translate(273.3,429.8) scale(1,1.04)" text-anchor="end" font-size="13.4">−7</text>
<text transform="translate(313.8,309.7) scale(1,1.04)" text-anchor="middle" font-size="13.4">-3.87</text>
<text transform="translate(314.65,372.7) scale(1,1.04)" text-anchor="middle" font-size="13.4">-6.02</text>
<text transform="translate(418.85,306.5) scale(1,1.04)" text-anchor="middle" font-size="13.4">-3.80</text>
<text transform="translate(419,382.9) scale(1,1.04)" text-anchor="middle" font-size="13.4">-6.28</text>
<polygon points="349.35,278.2 354.45,287.6 351.55,287.6 351.55,295.9 347.15,295.9 347.15,287.6 344.25,287.6" fill="#000"/>
<polygon points="349.3,371 354.4,380.4 351.5,380.4 351.5,388.8 347.1,388.8 347.1,380.4 344.2,380.4" fill="#000"/>
<polygon points="381.9,277.3 387,286.7 384.1,286.7 384.1,294.4 379.7,294.4 379.7,286.7 376.8,286.7" fill="#000"/>
<polygon points="382,404.2 387.1,394.8 384.2,394.8 384.2,387.2 379.8,387.2 379.8,394.8 376.9,394.8" fill="#000"/>
<text transform="translate(316.3,447.4) scale(1,1)" text-anchor="middle" font-size="13.4">K(MoSe<tspan font-size="9.4" dy="3">2</tspan><tspan dy="-3">)</tspan></text>
<text transform="translate(395.4,447.4) scale(1,1.04)" text-anchor="start" font-size="13.4">K</text>
<polygon points="406.4,437 408.1,437 405.6,441.6 404.85,441.6" fill="#000"/>
<text transform="translate(408.55,447.4) scale(1,1.04)" text-anchor="start" font-size="13.4">(WS<tspan font-size="9.4" dx="0.6" dy="3">2</tspan><tspan dx="1.4" dy="-3">)</tspan></text>
<rect x="513.8" y="251.9" width="54.2" height="36.1" fill="#f84242"/>
<rect x="513.8" y="372.92" width="54.2" height="49.68" fill="#f84242"/>
<rect x="618.2" y="251.9" width="54.3" height="33.96" fill="#579cf2"/>
<rect x="618.2" y="379.3" width="54.3" height="43.3" fill="#579cf2"/>
<line x1="513.8" y1="288" x2="568" y2="288" stroke="#000" stroke-width="2.7"/>
<line x1="513.8" y1="372.92" x2="568" y2="372.92" stroke="#000" stroke-width="2.7"/>
<line x1="618.2" y1="285.86" x2="672.5" y2="285.86" stroke="#000" stroke-width="2.7"/>
<line x1="618.8" y1="380.6" x2="672.5" y2="380.6" stroke="#000" stroke-width="2.7" stroke-dasharray="11.2 4.3"/>
<rect x="507.1" y="251.9" width="171.9" height="170.7" fill="none" stroke="#000" stroke-width="2"/>
<line x1="507.1" y1="294.57" x2="513.6" y2="294.57" stroke="#000" stroke-width="2"/>
<line x1="507.1" y1="337.25" x2="513.6" y2="337.25" stroke="#000" stroke-width="2"/>
<line x1="507.1" y1="379.93" x2="513.6" y2="379.93" stroke="#000" stroke-width="2"/>
<line x1="540.9" y1="422.6" x2="540.9" y2="416.6" stroke="#000" stroke-width="2"/>
<line x1="645.35" y1="422.6" x2="645.35" y2="416.6" stroke="#000" stroke-width="2"/>
<text transform="translate(499.9,257.2) scale(1,1.04)" text-anchor="end" font-size="13.4">−3</text>
<text transform="translate(499.9,299.88) scale(1,1.04)" text-anchor="end" font-size="13.4">−4</text>
<text transform="translate(499.9,342.55) scale(1,1.04)" text-anchor="end" font-size="13.4">−5</text>
<text transform="translate(499.9,385.23) scale(1,1.04)" text-anchor="end" font-size="13.4">−6</text>
<text transform="translate(499.9,427.9) scale(1,1.04)" text-anchor="end" font-size="13.4">−7</text>
<text transform="translate(540,305.1) scale(1,1.04)" text-anchor="middle" font-size="13.4">-3.84</text>
<text transform="translate(541.25,363.6) scale(1,1.04)" text-anchor="middle" font-size="13.4">-5.83</text>
<text transform="translate(646,304.5) scale(1,1.04)" text-anchor="middle" font-size="13.4">-3.79</text>
<text transform="translate(645.45,371.5) scale(1,1.04)" text-anchor="middle" font-size="13.4">-6.01</text>
<polygon points="578,276 583.1,285.4 580.2,285.4 580.2,293.9 575.8,293.9 575.8,285.4 572.9,285.4" fill="#000"/>
<polygon points="576.6,365 581.7,374.4 578.8,374.4 578.8,382 574.4,382 574.4,374.4 571.5,374.4" fill="#000"/>
<polygon points="610.1,273.9 615.2,283.3 612.3,283.3 612.3,291.3 607.9,291.3 607.9,283.3 605,283.3" fill="#000"/>
<polygon points="610.1,391 615.2,381.6 612.3,381.6 612.3,373.4 607.9,373.4 607.9,381.6 605,381.6" fill="#000"/>
<text transform="translate(545.3,446.9) scale(1,1)" text-anchor="middle" font-size="13.4">K(MoSe<tspan font-size="9.4" dy="3">2</tspan><tspan dy="-3">)</tspan></text>
<text transform="translate(624.25,446.9) scale(1,1.04)" text-anchor="start" font-size="13.4">K</text>
<polygon points="635.25,436.5 636.95,436.5 634.45,441.1 633.7,441.1" fill="#000"/>
<text transform="translate(637.4,446.9) scale(1,1.04)" text-anchor="start" font-size="13.4">(WS<tspan font-size="9.4" dx="0.6" dy="3">2</tspan><tspan dx="1.4" dy="-3">)</tspan></text>
</svg>
</body></html>
